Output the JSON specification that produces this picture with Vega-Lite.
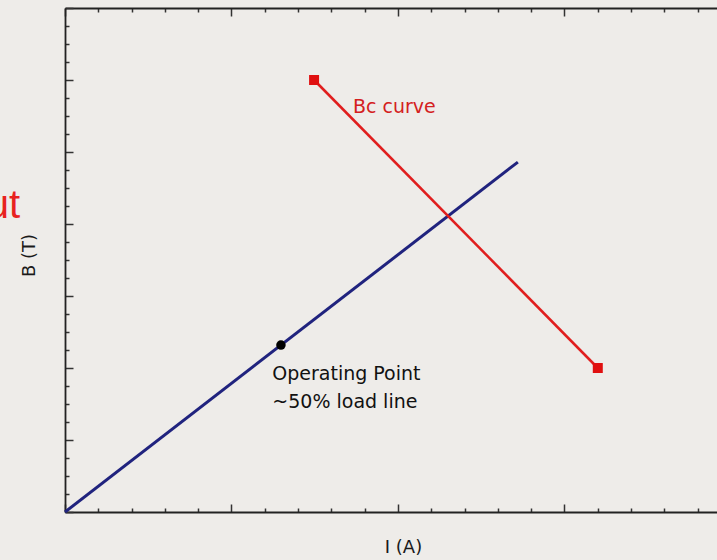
{
  "$schema": "https://vega.github.io/schema/vega-lite/v6.json",
  "width": 652,
  "height": 504,
  "autosize": {"type": "none"},
  "padding": {"left": 65, "top": 8, "right": 0, "bottom": 48},
  "background": "#eeece9",
  "config": {
    "view": {"stroke": null},
    "font": "DejaVu Sans",
    "axis": {
      "domainColor": "#222222",
      "domainWidth": 1.8,
      "tickColor": "#333333",
      "tickWidth": 1.5,
      "labels": false,
      "grid": false,
      "titleFont": "DejaVu Sans",
      "titleFontWeight": "normal",
      "titleFontSize": 18,
      "titleColor": "#1a1a1a"
    }
  },
  "datasets": {
    "load": [
      {"I": 0, "B": 0},
      {"I": 2.72, "B": 4.86}
    ],
    "bc": [
      {"I": 1.496, "B": 6.0},
      {"I": 3.2, "B": 2.0}
    ],
    "op": [
      {"I": 1.297, "B": 2.318}
    ],
    "labels": [
      {"I": 1.73, "B": 5.54, "text": "Bc curve", "series": "bc"},
      {"I": 1.245, "B": 1.833, "text": "Operating Point", "series": "op"},
      {"I": 1.245, "B": 1.444, "text": "~50% load line", "series": "op"}
    ],
    "cut": [
      {"I": -0.27, "B": 4.083, "text": "ut"}
    ]
  },
  "resolve": {"axis": {"x": "independent", "y": "independent"}},
  "layer": [
    {
      "data": {"name": "load"},
      "mark": {"type": "line", "color": "#20237e", "strokeWidth": 3},
      "encoding": {
        "x": {
          "field": "I", "type": "quantitative",
          "scale": {"domain": [0, 3.916], "nice": false, "zero": false},
          "axis": {
            "orient": "bottom",
            "title": "I (A)",
            "titleX": 338,
            "titleY": 35,
            "titleBaseline": "middle",
            "values": [0, 0.2, 0.4, 0.6, 0.8, 1, 1.2, 1.4, 1.6, 1.8, 2, 2.2, 2.4, 2.6, 2.8, 3, 3.2, 3.4, 3.6, 3.8],
            "tickSize": {"condition": {"test": "abs(datum.value - round(datum.value)) < 0.001", "value": -8}, "value": -4}
          }
        },
        "y": {
          "field": "B", "type": "quantitative",
          "scale": {"domain": [0, 7], "nice": false, "zero": false},
          "axis": {
            "orient": "left",
            "title": "B (T)",
            "titleX": -36,
            "titleY": 247,
            "titleAlign": "center",
            "titleBaseline": "middle",
            "titleAngle": -90,
            "values": [0, 0.25, 0.5, 0.75, 1, 1.25, 1.5, 1.75, 2, 2.25, 2.5, 2.75, 3, 3.25, 3.5, 3.75, 4, 4.25, 4.5, 4.75, 5, 5.25, 5.5, 5.75, 6, 6.25, 6.5, 6.75, 7],
            "tickSize": {"condition": {"test": "abs(datum.value - round(datum.value)) < 0.001", "value": -8}, "value": -4}
          }
        }
      }
    },
    {
      "data": {"name": "bc"},
      "mark": {"type": "line", "color": "#e01e1e", "strokeWidth": 2.5},
      "encoding": {
        "x": {
          "field": "I", "type": "quantitative",
          "scale": {"domain": [0, 3.916], "nice": false, "zero": false},
          "axis": {
            "orient": "top",
            "title": null,
            "values": [0, 0.2, 0.4, 0.6, 0.8, 1, 1.2, 1.4, 1.6, 1.8, 2, 2.2, 2.4, 2.6, 2.8, 3, 3.2, 3.4, 3.6, 3.8],
            "tickSize": {"condition": {"test": "abs(datum.value - round(datum.value)) < 0.001", "value": -8}, "value": -4}
          }
        },
        "y": {
          "field": "B", "type": "quantitative",
          "scale": {"domain": [0, 7], "nice": false, "zero": false},
          "axis": null
        }
      }
    },
    {
      "data": {"name": "bc"},
      "mark": {"type": "point", "shape": "square", "filled": true, "color": "#e01010", "size": 100, "opacity": 1},
      "encoding": {
        "x": {"field": "I", "type": "quantitative", "scale": {"domain": [0, 3.916], "nice": false, "zero": false}, "axis": null},
        "y": {"field": "B", "type": "quantitative", "scale": {"domain": [0, 7], "nice": false, "zero": false}, "axis": null}
      }
    },
    {
      "data": {"name": "op"},
      "mark": {"type": "point", "shape": "circle", "filled": true, "color": "#000000", "size": 90, "opacity": 1},
      "encoding": {
        "x": {"field": "I", "type": "quantitative", "scale": {"domain": [0, 3.916], "nice": false, "zero": false}, "axis": null},
        "y": {"field": "B", "type": "quantitative", "scale": {"domain": [0, 7], "nice": false, "zero": false}, "axis": null}
      }
    },
    {
      "data": {"name": "labels"},
      "mark": {"type": "text", "align": "left", "baseline": "alphabetic", "fontSize": 19, "font": "DejaVu Sans"},
      "encoding": {
        "x": {"field": "I", "type": "quantitative", "scale": {"domain": [0, 3.916], "nice": false, "zero": false}, "axis": null},
        "y": {"field": "B", "type": "quantitative", "scale": {"domain": [0, 7], "nice": false, "zero": false}, "axis": null},
        "text": {"field": "text"},
        "color": {
          "field": "series", "type": "nominal",
          "scale": {"domain": ["bc", "op"], "range": ["#d42020", "#111111"]},
          "legend": null
        }
      }
    },
    {
      "data": {"name": "cut"},
      "mark": {"type": "text", "align": "right", "baseline": "alphabetic", "fontSize": 40, "font": "Liberation Sans", "color": "#e8221f"},
      "encoding": {
        "x": {"field": "I", "type": "quantitative", "scale": {"domain": [0, 3.916], "nice": false, "zero": false}, "axis": null},
        "y": {"field": "B", "type": "quantitative", "scale": {"domain": [0, 7], "nice": false, "zero": false}, "axis": null},
        "text": {"field": "text"}
      }
    }
  ]
}
